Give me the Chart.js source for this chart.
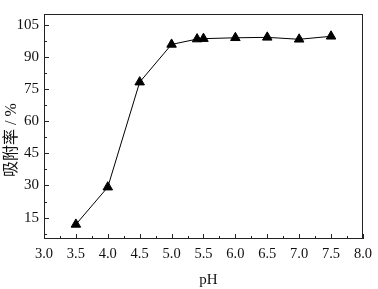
<!DOCTYPE html>
<html>
<head>
<meta charset="utf-8">
<script src="https://cdn.jsdelivr.net/npm/chart.js@4/dist/chart.umd.min.js"></script>
<style>
html,body{margin:0;padding:0;background:#fff;}
#wrap{width:378px;height:289px;}
</style>
</head>
<body>
<div id="wrap"><canvas id="c" width="378" height="289"></canvas></div>
<script>
const phValues = [3.5, 4.0, 4.5, 5.0, 5.4, 5.5, 6.0, 6.5, 7.0, 7.5];
const adsorption = [11.8, 29.2, 78.2, 95.8, 98.3, 98.5, 98.9, 99.1, 98.2, 99.6];
const xTicks = [3.0, 3.5, 4.0, 4.5, 5.0, 5.5, 6.0, 6.5, 7.0, 7.5, 8.0];
const yTicks = [15, 30, 45, 60, 75, 90, 105];
const xTitle = 'pH';
const yTitle = '吸附率 / %';

const FONT = "'Liberation Serif', 'Times New Roman', serif";

const framePlugin = {
  id: 'frame',
  afterDraw(chart) {
    const ctx = chart.ctx, a = chart.chartArea;
    const xs = chart.scales.x, ys = chart.scales.y;
    ctx.save();
    ctx.strokeStyle = '#222';
    ctx.lineWidth = 1;
    ctx.strokeRect(Math.round(a.left) + 0.5, Math.round(a.top) + 0.5, Math.round(a.right - a.left) - 1, Math.round(a.bottom - a.top) - 1);
    ctx.beginPath();
    for (let i = 0; i < xTicks.length; i++) {
      const px = Math.round(xs.getPixelForValue(xTicks[i])) + 0.5;
      ctx.moveTo(px, a.bottom); ctx.lineTo(px, a.bottom - 5);
      if (i < xTicks.length - 1) {
        const mx = Math.round(xs.getPixelForValue((xTicks[i] + xTicks[i + 1]) / 2)) + 0.5;
        ctx.moveTo(mx, a.bottom); ctx.lineTo(mx, a.bottom - 3);
      }
    }
    for (let i = 0; i < yTicks.length; i++) {
      const py = Math.round(ys.getPixelForValue(yTicks[i])) + 0.5;
      ctx.moveTo(a.left, py); ctx.lineTo(a.left + 5, py);
      const mids = [yTicks[i] - 7.5];
      if (i === yTicks.length - 1 && yTicks[i] + 7.5 <= ys.max) mids.push(yTicks[i] + 7.5);
      for (const m of mids) {
        if (m < ys.min) continue;
        const my = Math.round(ys.getPixelForValue(m)) + 0.5;
        ctx.moveTo(a.left, my); ctx.lineTo(a.left + 3, my);
      }
    }
    ctx.stroke();
    ctx.fillStyle = '#111';
    ctx.font = "15px " + FONT;
    ctx.textAlign = 'center';
    ctx.textBaseline = 'middle';
    ctx.fillText(xTitle, (a.left + a.right) / 2 + 5, 280);
    ctx.save();
    ctx.translate(12, 140);
    ctx.rotate(-Math.PI / 2);
    ctx.font = "16px " + FONT + ", 'Noto Sans CJK SC'";
    ctx.fillText(yTitle, 0, 0);
    ctx.restore();
    ctx.restore();
  }
};

new Chart(document.getElementById('c'), {
  type: 'line',
  data: {
    datasets: [{
      data: phValues.map((x, i) => ({ x: x, y: adsorption[i] })),
      borderColor: '#000',
      borderWidth: 1,
      pointStyle: 'triangle',
      pointRadius: 5.5,
      pointBackgroundColor: '#000',
      pointBorderColor: '#000',
      pointBorderWidth: 1,
      tension: 0,
      fill: false
    }]
  },
  options: {
    responsive: false,
    animation: false,
    devicePixelRatio: 1,
    layout: { padding: { top: 2, right: 10, left: 0, bottom: 0 } },
    plugins: { legend: { display: false }, tooltip: { enabled: false } },
    scales: {
      x: {
        type: 'linear',
        min: 3, max: 8,
        afterBuildTicks(s) { s.ticks = xTicks.map(v => ({ value: v })); },
        afterFit(s) { s.height = 50; },
        grid: { display: false, drawTicks: false },
        border: { display: false },
        ticks: {
          padding: 6,
          color: '#111',
          font: { family: FONT, size: 14.5 },
          callback: v => Number(v).toFixed(1),
          maxRotation: 0, autoSkip: false
        }
      },
      y: {
        type: 'linear',
        min: 5, max: 110,
        afterBuildTicks(s) { s.ticks = yTicks.map(v => ({ value: v })); },
        afterFit(s) { s.width = 44; },
        grid: { display: false, drawTicks: false },
        border: { display: false },
        ticks: {
          padding: 5,
          color: '#111',
          font: { family: FONT, size: 15 },
          autoSkip: false
        }
      }
    }
  },
  plugins: [framePlugin]
});
</script>
</body>
</html>
